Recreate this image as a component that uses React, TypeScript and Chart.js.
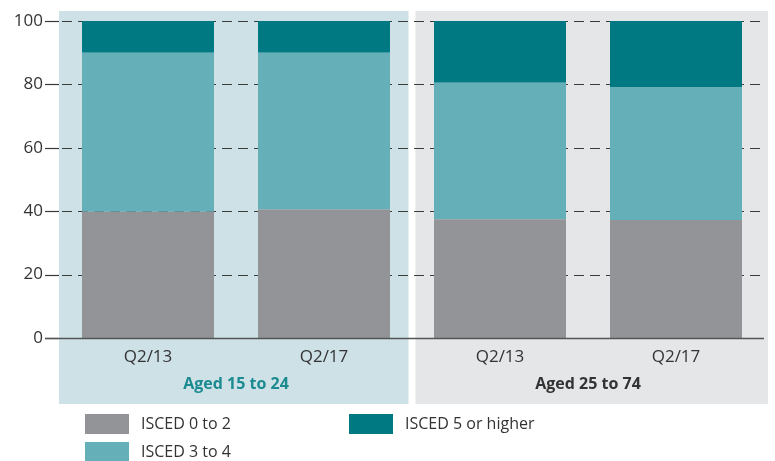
import React, { useEffect, useRef } from "react";
import { Chart, registerables } from "chart.js";

Chart.register(...registerables);

const categories = ["Q2/13", "Q2/17", "Q2/13", "Q2/17"];
const groupLabels = ["Aged 15 to 24", "Aged 25 to 74"];
const isced02 = [39.8, 40.5, 37.5, 37.2];
const isced34 = [50.2, 49.5, 43.0, 41.8];
const isced5 = [10.0, 10.0, 19.5, 21.0];
const yTicks = [0, 20, 40, 60, 80, 100];
const seriesNames = ["ISCED 0 to 2", "ISCED 3 to 4", "ISCED 5 or higher"];
const seriesColors = ["#939498", "#65afb8", "#007983"];

const FONT = "'Open Sans', 'Noto Sans', sans-serif";

const decorPlugin = {
  id: "decor",
  beforeDraw(chart: any) {
    const { ctx, chartArea, scales } = chart;
    const x = scales.x;
    const half = (x.getPixelForValue(1) - x.getPixelForValue(0)) / 2;
    const mid = x.getPixelForValue(1) + half;
    const top = chartArea.top - 10;
    const bottom = chartArea.bottom + 66;
    ctx.save();
    ctx.fillStyle = "#cde1e6";
    ctx.fillRect(chartArea.left - 1, top, mid - 3.5 - (chartArea.left - 1), bottom - top);
    ctx.fillStyle = "#e5e6e8";
    ctx.fillRect(mid + 3.5, top, chartArea.right + 4 - (mid + 3.5), bottom - top);
    ctx.restore();
  },
  beforeDatasetsDraw(chart: any) {
    const { ctx, chartArea, scales } = chart;
    const y = scales.y;
    ctx.save();
    yTicks.forEach((v) => {
      const py = Math.round(y.getPixelForValue(v)) + 0.5;
      ctx.strokeStyle = "#3a3a3a";
      ctx.lineWidth = 1.2;
      ctx.setLineDash([]);
      ctx.beginPath();
      ctx.moveTo(chartArea.left - 15, py);
      ctx.lineTo(chartArea.left - 1, py);
      ctx.stroke();
      if (v !== 0) {
        ctx.setLineDash([10, 6]);
        ctx.beginPath();
        ctx.moveTo(chartArea.left + 2, py);
        ctx.lineTo(chartArea.right, py);
        ctx.stroke();
      }
    });
    ctx.restore();
  },
  afterDatasetsDraw(chart: any) {
    const { ctx, chartArea, scales } = chart;
    const y = scales.y;
    const x = scales.x;
    ctx.save();
    const py = Math.round(y.getPixelForValue(0)) + 0.5;
    ctx.strokeStyle = "#555";
    ctx.lineWidth = 1.5;
    ctx.beginPath();
    ctx.moveTo(chartArea.left - 15, py);
    ctx.lineTo(chartArea.right, py);
    ctx.stroke();

    // group labels
    ctx.font = `bold 16px ${FONT}`;
    ctx.textAlign = "center";
    ctx.textBaseline = "middle";
    const gy = chartArea.bottom + 46;
    const g1 = (x.getPixelForValue(0) + x.getPixelForValue(1)) / 2;
    const g2 = (x.getPixelForValue(2) + x.getPixelForValue(3)) / 2;
    ctx.fillStyle = "#1b8a91";
    ctx.fillText(groupLabels[0], g1, gy);
    ctx.fillStyle = "#333";
    ctx.fillText(groupLabels[1], g2, gy);

    // legend
    const items = [
      { sx: 85, sy: 414 },
      { sx: 85, sy: 442 },
      { sx: 349, sy: 414 },
    ];
    ctx.font = `16px ${FONT}`;
    ctx.textAlign = "left";
    items.forEach((it, i) => {
      ctx.fillStyle = seriesColors[i];
      ctx.fillRect(it.sx, it.sy, 44, 20);
      ctx.fillStyle = "#333";
      ctx.fillText(seriesNames[i], it.sx + 56, it.sy + 10);
    });
    ctx.restore();
  },
};

export default function App() {
  const ref = useRef<HTMLCanvasElement>(null);
  useEffect(() => {
    if (!ref.current) return;
    const chart = new Chart(ref.current, {
      type: "bar",
      data: {
        labels: categories,
        datasets: [
          { label: seriesNames[0], data: isced02, backgroundColor: seriesColors[0] },
          { label: seriesNames[1], data: isced34, backgroundColor: seriesColors[1] },
          { label: seriesNames[2], data: isced5, backgroundColor: seriesColors[2] },
        ],
      },
      options: {
        responsive: false,
        animation: false,
        events: [],
        layout: { padding: { top: 21, right: 11, bottom: 83, left: 0 } },
        datasets: { bar: { categoryPercentage: 1, barPercentage: 0.75 } },
        plugins: { legend: { display: false }, tooltip: { enabled: false } },
        scales: {
          x: {
            stacked: true,
            grid: { display: false, drawTicks: false },
            border: { display: false },
            ticks: { color: "#333", font: { family: FONT, size: 17 }, padding: 9, maxRotation: 0 },
            afterFit: (s: any) => {
              s.height = 40;
              s.paddingLeft = 0;
              s.paddingRight = 0;
            },
          },
          y: {
            stacked: true,
            min: 0,
            max: 100,
            grid: { display: false, drawTicks: false },
            border: { display: false },
            ticks: { stepSize: 20, color: "#333", font: { family: FONT, size: 17 }, padding: 17 },
            afterFit: (s: any) => {
              s.width = 60;
              s.paddingTop = 0;
              s.paddingBottom = 0;
            },
          },
        },
      },
      plugins: [decorPlugin],
    });
    return () => chart.destroy();
  }, []);
  return (
    <div style={{ position: "absolute", left: 0, top: 0, width: 775, height: 461 }}>
      <canvas ref={ref} width={775} height={461} />
    </div>
  );
}
